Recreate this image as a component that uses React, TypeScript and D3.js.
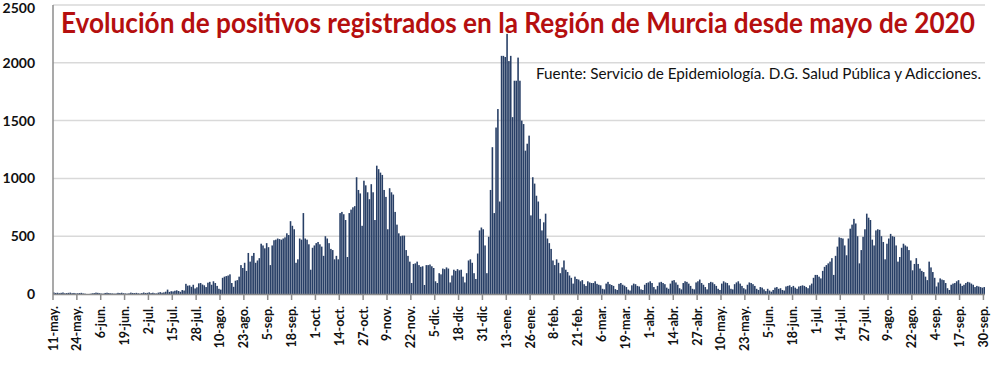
import React, { useEffect, useRef } from 'react';
import * as d3 from 'd3';

// daily positives, 11-may-2020 .. 30-sep-2021
const may2020 = [14, 9, 11, 7, 10, 13, 6, 8, 10, 12, 7, 9, 5, 6, 8, 10, 5, 3, 0, 0, 2];
const jun2020 = [6, 8, 12, 10, 7, 4, 3, 9, 11, 8, 6, 5, 3, 4, 10, 8, 11, 7, 5, 3, 6, 12, 9, 8, 10, 6, 4, 8, 13, 9];
const jul2020 = [10, 14, 8, 11, 6, 5, 12, 16, 11, 14, 20, 38, 18, 24, 22, 28, 32, 26, 19, 34, 30, 88, 72, 75, 62, 80, 48, 58, 92, 95, 82];
const aug2020 = [75, 60, 98, 105, 80, 110, 95, 70, 45, 38, 140, 150, 155, 160, 170, 95, 62, 115, 120, 150, 250, 225, 270, 200, 355, 280, 330, 355, 270, 290, 310];
const sep2020 = [435, 420, 395, 440, 405, 250, 420, 465, 470, 480, 475, 470, 480, 490, 525, 510, 630, 590, 560, 270, 300, 480, 470, 700, 480, 470, 430, 210, 400, 420];
const oct2020 = [440, 450, 430, 410, 330, 500, 480, 440, 390, 380, 300, 330, 300, 700, 710, 690, 640, 320, 700, 730, 750, 760, 1010, 900, 870, 590, 980, 940, 880, 820, 950];
const nov2020 = [880, 640, 1110, 1080, 1050, 1030, 900, 840, 560, 915, 880, 860, 710, 600, 525, 500, 505, 505, 380, 330, 280, 95, 260, 265, 280, 250, 235, 240, 78, 250];
const dec2020 = [250, 255, 240, 225, 110, 95, 180, 170, 220, 215, 230, 220, 100, 160, 210, 200, 215, 205, 210, 150, 100, 180, 290, 300, 270, 180, 130, 350, 550, 575, 560];
const jan2021 = [420, 180, 495, 900, 1270, 700, 1440, 1600, 800, 2060, 2060, 2050, 2250, 2015, 2060, 1530, 1845, 1845, 2045, 1845, 1500, 1470, 1240, 1300, 1370, 680, 1010, 955, 850, 800, 650];
const feb2021 = [550, 620, 695, 480, 440, 390, 290, 250, 300, 270, 180, 230, 290, 210, 190, 160, 140, 90, 150, 130, 125, 110, 120, 85, 70, 110, 100, 95];
const mar2021 = [95, 110, 88, 80, 75, 45, 40, 90, 105, 85, 78, 70, 42, 35, 88, 95, 80, 72, 60, 38, 30, 75, 90, 85, 70, 65, 40, 35, 80, 95, 100];
const apr2021 = [110, 95, 60, 40, 70, 100, 105, 95, 85, 55, 45, 90, 115, 120, 100, 80, 50, 40, 95, 110, 105, 90, 70, 45, 40, 100, 110, 125, 95, 80];
const may2021 = [60, 40, 95, 105, 100, 85, 70, 45, 35, 90, 110, 100, 95, 75, 45, 40, 85, 100, 110, 90, 70, 50, 40, 80, 100, 95, 85, 70, 45, 35, 60];
const jun2021 = [55, 40, 25, 45, 30, 20, 35, 55, 60, 45, 50, 35, 30, 65, 70, 75, 60, 70, 55, 45, 65, 70, 75, 70, 60, 50, 75, 90, 140, 165];
const jul2021 = [165, 150, 135, 200, 235, 250, 265, 280, 310, 165, 330, 410, 490, 485, 480, 420, 335, 480, 565, 600, 650, 610, 500, 265, 380, 495, 560, 695, 660, 640, 470];
const aug2021 = [420, 550, 560, 555, 500, 450, 300, 435, 480, 520, 500, 495, 420, 280, 320, 400, 435, 420, 410, 380, 290, 205, 260, 310, 260, 220, 200, 190, 150, 120, 280];
const sep2021 = [230, 190, 140, 65, 100, 135, 125, 120, 95, 50, 35, 80, 90, 95, 110, 120, 90, 70, 80, 95, 105, 100, 90, 80, 60, 70, 65, 60, 55, 60];

// one label every 13 days, starting on the first day
const tickLabels = [
  '11-may.', '24-may.', '6-jun.', '19-jun.', '2-jul.', '15-jul.', '28-jul.', '10-ago.', '23-ago.', '5-sep.',
  '18-sep.', '1-oct.', '14-oct.', '27-oct.', '9-nov.', '22-nov.', '5-dic.', '18-dic', '31-dic', '13-ene.',
  '26-ene.', '8-feb.', '21-feb.', '6-mar.', '19-mar.', '1-abr.', '14-abr.', '27-abr.', '10-may.', '23-may.',
  '5-jun.', '18-jun.', '1-jul.', '14-jul.', '27-jul.', '9-ago.', '22-ago.', '4-sep.', '17-sep.', '30-sep.',
];
const yTicks = [0, 500, 1000, 1500, 2000, 2500];

const title = 'Evolución de positivos registrados en la Región de Murcia desde mayo de 2020';
const source = 'Fuente: Servicio de Epidemiología. D.G. Salud Pública y Adicciones.';

const App: React.FC = () => {
  const svgRef = useRef<SVGSVGElement>(null);

  useEffect(() => {
    if (!svgRef.current) return;
    document.body.style.margin = '0';

    const svg = d3.select(svgRef.current);
    svg.selectAll('*').remove();

    const values = [
      ...may2020, ...jun2020, ...jul2020, ...aug2020, ...sep2020, ...oct2020, ...nov2020, ...dec2020,
      ...jan2021, ...feb2021, ...mar2021, ...apr2021, ...may2021, ...jun2021, ...jul2021, ...aug2021, ...sep2021,
    ];

    const left = 53, right = 985, top = 5, bottom = 294;
    const x = d3.scaleBand<number>()
      .domain(d3.range(values.length))
      .range([left, right])
      .paddingInner(0.14)
      .paddingOuter(0);
    const y = d3.scaleLinear().domain([0, 2500]).range([bottom, top]);

    // --- gridlines ---
    svg.append('g')
      .selectAll('line')
      .data(yTicks.filter(d => d > 0))
      .join('line')
      .attr('x1', left)
      .attr('x2', right)
      .attr('y1', d => y(d))
      .attr('y2', d => y(d))
      .attr('stroke', '#d9d9d9')
      .attr('stroke-width', 1.5);

    // --- y labels (top one kept inside the picture) ---
    svg.append('g')
      .selectAll('text')
      .data(yTicks)
      .join('text')
      .attr('x', 35)
      .attr('y', d => Math.max(y(d), 8))
      .attr('dy', '0.36em')
      .attr('text-anchor', 'end')
      .attr('font-family', 'Lato, sans-serif')
      .attr('font-weight', 'bold')
      .attr('font-size', 14)
      .attr('fill', '#111')
      .text(d => d);

    // --- bars ---
    svg.append('g')
      .selectAll('rect')
      .data(values)
      .join('rect')
      .attr('x', (_, i) => x(i)!)
      .attr('width', x.bandwidth())
      .attr('y', d => y(d))
      .attr('height', d => bottom - y(d))
      .attr('fill', '#283f66');

    // --- axes ---
    svg.append('line')
      .attr('x1', left).attr('x2', left)
      .attr('y1', top).attr('y2', bottom)
      .attr('stroke', '#8c8c8c').attr('stroke-width', 1.5);
    svg.append('line')
      .attr('x1', left).attr('x2', right)
      .attr('y1', bottom + 0.5).attr('y2', bottom + 0.5)
      .attr('stroke', '#8c8c8c').attr('stroke-width', 1.5);

    const step = x.step();
    const tickX = (i: number) => left + i * 13 * step;

    const xt = svg.append('g');
    xt.selectAll('line')
      .data(tickLabels)
      .join('line')
      .attr('x1', (_, i) => tickX(i))
      .attr('x2', (_, i) => tickX(i))
      .attr('y1', bottom)
      .attr('y2', bottom + 6)
      .attr('stroke', '#8c8c8c')
      .attr('stroke-width', 1.5);

    xt.selectAll('text')
      .data(tickLabels)
      .join('text')
      .attr('transform', (_, i) => `translate(${tickX(i)},${bottom + 12}) rotate(-90)`)
      .attr('dy', '0.36em')
      .attr('text-anchor', 'end')
      .attr('font-family', 'Lato, sans-serif')
      .attr('font-weight', 'bold')
      .attr('font-size', 12.5)
      .attr('fill', '#111')
      .text(d => d);

    // --- title & source ---
    svg.append('text')
      .attr('x', 61)
      .attr('y', 33)
      .attr('font-family', 'Lato, sans-serif')
      .attr('font-weight', 'bold')
      .attr('font-size', 28)
      .attr('fill', '#b50f0f')
      .attr('textLength', 914)
      .attr('lengthAdjust', 'spacingAndGlyphs')
      .text(title);

    svg.append('text')
      .attr('x', 536)
      .attr('y', 78.5)
      .attr('font-family', 'Lato, sans-serif')
      .attr('font-size', 15)
      .attr('fill', '#111')
      .attr('textLength', 445)
      .attr('lengthAdjust', 'spacingAndGlyphs')
      .text(source);
  }, []);

  return <svg ref={svgRef} width={1000} height={369} style={{ display: 'block', background: '#fff' }} />;
};

export default App;
